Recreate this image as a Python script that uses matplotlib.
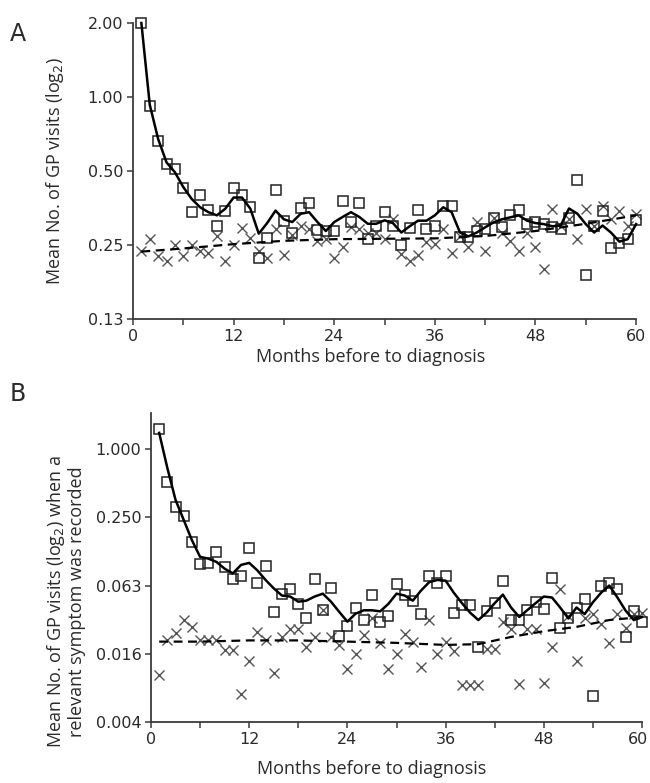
import numpy as np
import matplotlib
matplotlib.use("Agg")
from matplotlib import pyplot as plt
from matplotlib import transforms
from matplotlib.ticker import FixedLocator, NullFormatter

months = list(range(1, 61))

# panel A - all GP visits
a_squares = [2.0, 0.917, 0.66, 0.534, 0.51, 0.427, 0.34, 0.40, 0.348, 0.30,
             0.343, 0.427, 0.398, 0.356, 0.222, 0.268, 0.42, 0.312, 0.279, 0.353,
             0.37, 0.289, 0.285, 0.286, 0.379, 0.31, 0.37, 0.265, 0.30, 0.34,
             0.30, 0.25, 0.293, 0.348, 0.29, 0.30, 0.36, 0.36, 0.27, 0.27,
             0.286, 0.29, 0.323, 0.295, 0.332, 0.348, 0.305, 0.31, 0.305, 0.295,
             0.29, 0.323, 0.46, 0.188, 0.30, 0.345, 0.242, 0.255, 0.265, 0.315]
a_crosses = [0.237, 0.264, 0.225, 0.216, 0.25, 0.225, 0.25, 0.237, 0.233, 0.273,
             0.216, 0.25, 0.293, 0.268, 0.237, 0.221, 0.29, 0.228, 0.275, 0.30,
             0.29, 0.26, 0.265, 0.222, 0.245, 0.295, 0.29, 0.28, 0.28, 0.265,
             0.32, 0.23, 0.216, 0.228, 0.256, 0.252, 0.29, 0.232, 0.273, 0.245,
             0.31, 0.237, 0.323, 0.28, 0.26, 0.237, 0.28, 0.245, 0.20, 0.35,
             0.30, 0.32, 0.264, 0.35, 0.30, 0.36, 0.32, 0.345, 0.30, 0.335]
a_line = [2.0, 0.93, 0.675, 0.542, 0.494, 0.43, 0.385, 0.356, 0.34, 0.33,
          0.351, 0.39, 0.39, 0.351, 0.278, 0.307, 0.345, 0.318, 0.31, 0.335,
          0.34, 0.31, 0.285, 0.31, 0.325, 0.34, 0.325, 0.305, 0.305, 0.315,
          0.307, 0.281, 0.298, 0.314, 0.314, 0.33, 0.356, 0.34, 0.281, 0.271,
          0.281, 0.295, 0.309, 0.318, 0.324, 0.33, 0.314, 0.307, 0.304, 0.298,
          0.30, 0.352, 0.335, 0.304, 0.281, 0.30, 0.281, 0.258, 0.264, 0.304]
trend_months = [1, 6, 12, 18, 24, 30, 36, 42, 48, 54, 60]
a_trend = [0.235, 0.242, 0.252, 0.26, 0.264, 0.265, 0.266, 0.272, 0.285, 0.305, 0.33]

# panel B - visits with a relevant symptom
b_squares = [1.5, 0.51, 0.306, 0.259, 0.152, 0.097, 0.099, 0.124, 0.091, 0.071,
             0.076, 0.133, 0.066, 0.093, 0.0366, 0.053, 0.058, 0.0433, 0.032, 0.0707,
             0.038, 0.060, 0.0226, 0.0277, 0.040, 0.031, 0.052, 0.030, 0.034, 0.064,
             0.052, 0.046, 0.035, 0.076, 0.066, 0.076, 0.036, 0.042, 0.042, 0.018,
             0.0375, 0.0437, 0.069, 0.031, 0.031, 0.038, 0.045, 0.039, 0.073, 0.0265,
             0.032, 0.040, 0.0477, 0.0066, 0.0617, 0.066, 0.058, 0.0219, 0.0375, 0.0296]
b_crosses = [0.0102, 0.0208, 0.0238, 0.031, 0.027, 0.0208, 0.0208, 0.0208, 0.017, 0.017,
             0.0069, 0.0134, 0.0243, 0.0208, 0.0105, 0.022, 0.026, 0.026, 0.0179, 0.022,
             0.038, 0.022, 0.0186, 0.0115, 0.0155, 0.0227, 0.032, 0.0195, 0.0114, 0.0155,
             0.0232, 0.0198, 0.012, 0.031, 0.0156, 0.0198, 0.0164, 0.0083, 0.0083, 0.0083,
             0.0172, 0.0172, 0.0295, 0.026, 0.0085, 0.026, 0.026, 0.0087, 0.0178, 0.0584,
             0.034, 0.0134, 0.032, 0.035, 0.0286, 0.0194, 0.035, 0.0265, 0.035, 0.036]
b_line = [1.39, 0.68, 0.356, 0.237, 0.157, 0.112, 0.108, 0.101, 0.088, 0.080,
          0.095, 0.099, 0.085, 0.070, 0.059, 0.051, 0.050, 0.045, 0.046, 0.050,
          0.053, 0.045, 0.0366, 0.030, 0.0353, 0.0378, 0.0378, 0.037, 0.043, 0.053,
          0.051, 0.046, 0.0565, 0.067, 0.070, 0.069, 0.054, 0.0437, 0.036, 0.031,
          0.036, 0.0437, 0.052, 0.040, 0.033, 0.038, 0.0437, 0.050, 0.049, 0.040,
          0.032, 0.040, 0.035, 0.0445, 0.054, 0.0625, 0.049, 0.0375, 0.031, 0.033]
b_trend_months = [1, 6, 12, 18, 24, 30, 36, 40, 44, 48, 52, 56, 60]
b_trend = [0.020, 0.020, 0.0205, 0.0205, 0.020, 0.0195, 0.0187, 0.019, 0.022, 0.0247, 0.027, 0.031, 0.033]

a_ticks = [2.0, 1.0, 0.5, 0.25, 0.125]
a_ticklabels = ["2.00", "1.00", "0.50", "0.25", "0.13"]
b_ticks = [1.0, 0.25, 0.0625, 0.015625, 0.00390625]
b_ticklabels = ["1.000", "0.250", "0.063", "0.016", "0.004"]
x_labels = ["0", "12", "24", "36", "48", "60"]

axis_col = "#3a3a3a"
text_col = "#2a2a2a"
label_font = "Open Sans"

fig = plt.figure(figsize=(6.5, 7.83), dpi=100)
axA = fig.add_axes([0.2046, 0.5926, 0.774, 0.378])
axB = fig.add_axes([0.2323, 0.0779, 0.7554, 0.3946])


def draw(ax, sq, cr, line, tm, trend):
    ax.plot(months, cr, linestyle="none", marker="x", ms=7, mew=1.0,
            color="#555555", zorder=2, clip_on=False)
    ax.plot(months, sq, linestyle="none", marker="s", ms=7.5, mew=1.1,
            mfc="none", mec="#222222", zorder=3, clip_on=False)
    ax.plot(months, line, color="black", lw=1.8, zorder=4, clip_on=False)
    ax.plot(tm, trend, color="black", lw=1.6, ls=(0, (4, 2.5)), zorder=4)
    ax.set_yscale("log", base=2)
    ax.set_xlim(0, 60)
    ax.xaxis.set_major_locator(FixedLocator([0, 12, 24, 36, 48, 60]))
    ax.xaxis.set_minor_locator(FixedLocator([6, 18, 30, 42, 54]))
    ax.set_xticklabels(x_labels)
    ax.xaxis.set_minor_formatter(NullFormatter())
    for side in ("top", "right"):
        ax.spines[side].set_visible(False)
    for side in ("left", "bottom"):
        ax.spines[side].set_color(axis_col)
        ax.spines[side].set_linewidth(1.3)
    ax.tick_params(which="both", direction="out", length=4, width=1.1,
                   color=axis_col, labelsize=11.5, labelcolor=text_col, pad=3)
    ax.set_xlabel("Months before to diagnosis", fontsize=13, family=label_font,
                  color=text_col)


draw(axA, a_squares, a_crosses, a_line, trend_months, a_trend)
axA.set_ylim(0.125, 2.0)
axA.yaxis.set_major_locator(FixedLocator(a_ticks))
axA.yaxis.set_minor_locator(FixedLocator([]))
axA.set_yticklabels(a_ticklabels)
axA.set_ylabel("Mean No. of GP visits (log$_2$)", fontsize=13, family=label_font,
               color=text_col)
axA.yaxis.set_label_coords(-0.133, 0.5)
axA.xaxis.set_label_coords(0.473, -0.097)

draw(axB, b_squares, b_crosses, b_line, b_trend_months, b_trend)
axB.set_ylim(0.00390625, 2.08)
axB.yaxis.set_major_locator(FixedLocator(b_ticks))
axB.yaxis.set_minor_locator(FixedLocator([]))
axB.set_yticklabels(b_ticklabels)
axB.set_ylabel("Mean No. of GP visits (log$_2$) when a\nrelevant symptom was recorded",
               fontsize=13, family=label_font, color=text_col, linespacing=1.05)
axB.yaxis.set_label_coords(-0.132, 0.39)
axB.xaxis.set_label_coords(0.45, -0.122)

# keep the last x label of panel B inside the figure edge
last = axB.get_xticklabels()[-1]
last.set_transform(last.get_transform() +
                   transforms.ScaledTranslation(-4 / 100, 0, fig.dpi_scale_trans))

fig.text(0.015, 0.948, "A", fontsize=17, color=text_col)
fig.text(0.015, 0.488, "B", fontsize=17, color=text_col)

fig.savefig("out.png", dpi=100)
